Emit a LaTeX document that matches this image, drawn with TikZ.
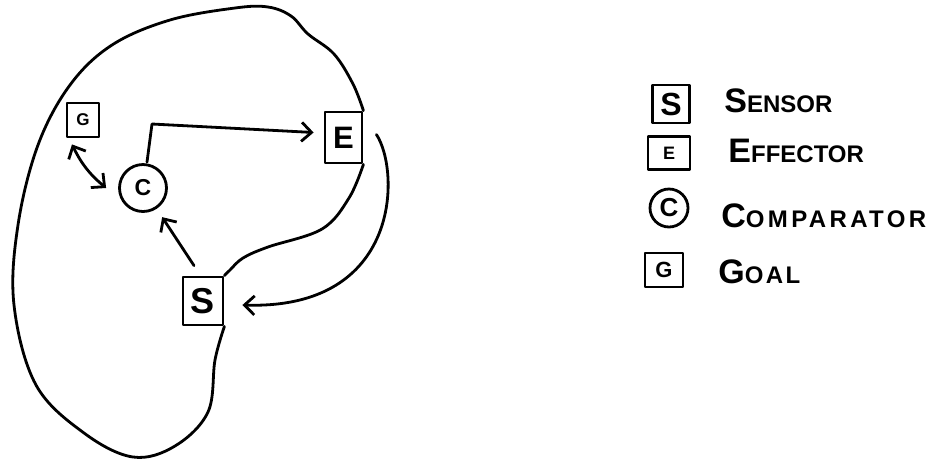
\documentclass[tikz,border=0pt]{standalone}
\usepackage{fontspec}
\setmainfont{Liberation Sans}
\usetikzlibrary{arrows.meta}
\newcommand\legtext[2]{{\fontsize{34}{34}\selectfont #1}{\fontsize{24}{24}\selectfont #2}}
\newcommand\fs[1]{\fontsize{#1}{#1}\selectfont\bfseries}
\begin{document}
\begin{tikzpicture}[x=1pt,y=-1pt, line width=2.8pt, line cap=round, line join=round,
  box/.style={draw, rectangle, inner sep=0pt},
  circ/.style={draw, circle, inner sep=0pt},
  conn/.style={-{Straight Barb[length=10pt,width=19pt]}},
  conntwo/.style={{Straight Barb[length=10pt,width=19pt]}-{Straight Barb[length=10pt,width=19pt]}},
  blob/.style={draw},
  lbl/.style={anchor=base west, inner sep=0pt, font=\bfseries}]
\useasboundingbox (0,0) rectangle (936,459);
% main diagram nodes
\node[box, minimum width=32pt, minimum height=34pt, font=\fs{17}] (G) at (83,120) {G};
\node[circ, minimum size=47pt, font=\fs{23}] (C) at (143,188) {C};
\node[box, minimum width=37pt, minimum height=51pt, font=\fs{31}] (E) at (343.5,137.5) {E};
\node[box, minimum width=40pt, minimum height=48pt, font=\fs{36}] (S) at (203,301) {S};
% blob outline
\draw[blob] plot[smooth, tension=0.6] coordinates {(E.south east) (349,198) (322,229) (268,247) (243,258) (230,270) (S.north east)};
\draw[blob] plot[smooth, tension=0.6] coordinates {(S.south east) (215,360) (208,412) (175,446) (133,457) (84,433) (36,385) (14,305) (18,225) (38,145) (70,85) (112,45) (170,20) (235,8) (268,7) (291,16) (308,34) (334,54) (353,84) (E.north east)};
% connectors
\draw[conntwo] ([shift={(-11,6)}]G.south) to[bend right=12] ([shift={(-12,0)}]C.west);
\coordinate (ce) at (152,124);
\draw[conn] ([shift={(4,-1)}]C.north) -- (ce) -- ([shift={(-10,-5)}]E.west);
\draw[conn, shorten >=10pt] ([shift={(-9,-10)}]S.north) -- (C);
\draw[conn] ([shift={(13,-3)}]E.east) .. controls (400,170) and (402,310) .. ([shift={(18,4)}]S.east);
% legend
\node[box, minimum width=37pt, minimum height=38pt, font=\fs{32}] (LS) at (671,104) {S};
\node[box, minimum width=42pt, minimum height=33pt, font=\fs{18}] (LE) at (669,153) {E};
\node[circ, minimum size=38pt, font=\fs{26}] (LC) at (669,208) {C};
\node[box, minimum width=38pt, minimum height=34pt, font=\fs{22}] (LG) at (664,270) {G};
\node[lbl] (TS) at (723,112) {\legtext{S}{ENSOR}};
\node[lbl] (TE) at (727,162) {\legtext{E}{FFECTOR}};
\node[lbl] (TC) at (720,227) {\addfontfeatures{LetterSpace=14}\legtext{C}{OMPARATOR}};
\node[lbl] (TG) at (717,283) {\addfontfeatures{LetterSpace=10}\legtext{G}{OAL}};
\end{tikzpicture}
\end{document}
